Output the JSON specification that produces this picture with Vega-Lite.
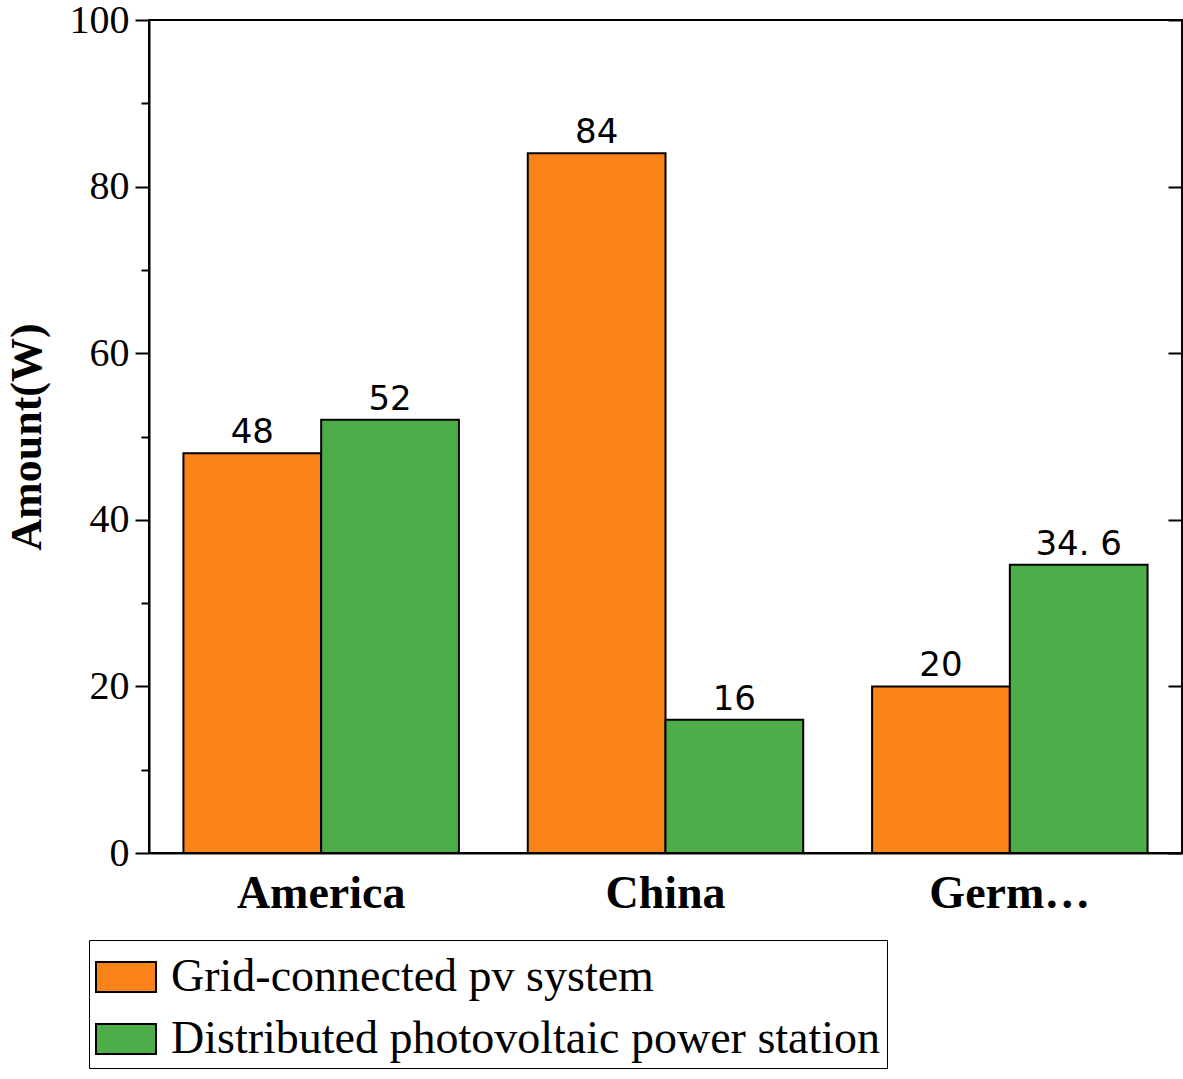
{
  "$schema": "https://vega.github.io/schema/vega-lite/v6.json",
  "width": 1033,
  "height": 833,
  "padding": {"left": 5, "top": 0, "right": 3, "bottom": 0},
  "data": {
    "values": [
      {"country": "America", "type": "Grid-connected pv system", "value": 48, "label": "48"},
      {"country": "America", "type": "Distributed photovoltaic power station", "value": 52, "label": "52"},
      {"country": "China", "type": "Grid-connected pv system", "value": 84, "label": "84"},
      {"country": "China", "type": "Distributed photovoltaic power station", "value": 16, "label": "16"},
      {"country": "Germany", "type": "Grid-connected pv system", "value": 20, "label": "20"},
      {"country": "Germany", "type": "Distributed photovoltaic power station", "value": 34.6, "label": "34. 6"}
    ]
  },
  "encoding": {
    "x": {
      "field": "country", "type": "nominal", "sort": null,
      "scale": {"paddingInner": 0.2, "paddingOuter": 0.1},
      "axis": {"title": null, "labelAngle": 0, "labelFont": "Liberation Serif", "labelFontWeight": "bold", "labelFontSize": 46, "labelColor": "black", "ticks": false, "domainColor": "black", "domainWidth": 2, "labelPadding": 18}
    },
    "xOffset": {"field": "type", "type": "nominal", "sort": ["Grid-connected pv system", "Distributed photovoltaic power station"]},
    "y": {"field": "value", "type": "quantitative", "scale": {"domain": [0, 100]}}
  },
  "layer": [
    {
      "mark": {"type": "bar", "stroke": "black", "strokeWidth": 2},
      "encoding": {
        "y": {
          "field": "value", "type": "quantitative", "scale": {"domain": [0, 100]},
          "axis": {"title": "Amount(W)", "titleFont": "Liberation Serif", "titleFontWeight": "bold", "titleFontSize": 44, "titleColor": "black", "titlePadding": 20, "values": [0, 20, 40, 60, 80, 100], "grid": false, "labelFont": "Liberation Serif", "labelFontSize": 40, "labelColor": "black", "tickColor": "black", "tickWidth": 2, "tickSize": 14, "domainColor": "black", "domainWidth": 2, "labelPadding": 6}
        },
        "color": {
          "field": "type", "type": "nominal", "sort": ["Grid-connected pv system", "Distributed photovoltaic power station"],
          "scale": {"range": ["#fb8418", "#4dae49"]},
          "legend": {"title": null, "orient": "none", "legendX": -60, "legendY": 920, "direction": "vertical", "labelFont": "Liberation Serif", "labelFontSize": 46, "labelColor": "black", "symbolType": "M-1,-0.5H1V0.5H-1Z", "symbolSize": 3600, "symbolStrokeColor": "black", "symbolStrokeWidth": 2, "symbolOpacity": 1, "rowPadding": 8, "labelLimit": 1000, "strokeColor": "black", "padding": 6, "labelOffset": 14}
        }
      }
    },
    {
      "mark": {"type": "text", "dy": -20, "font": "DejaVu Sans", "fontSize": 34, "color": "black"},
      "encoding": {
        "text": {"field": "label"},
        "y": {"field": "value", "type": "quantitative", "scale": {"domain": [0, 100]},
          "axis": {"orient": "right", "title": null, "labels": false, "values": [0, 20, 40, 60, 80, 100], "grid": false, "tickColor": "black", "tickWidth": 2, "tickSize": -14, "domainColor": "black", "domainWidth": 2}
        }
      }
    },
    {
      "mark": {"type": "bar", "opacity": 0},
      "encoding": {
        "y": {"field": "value", "type": "quantitative", "scale": {"domain": [0, 100]},
          "axis": {"title": null, "labels": false, "values": [10, 30, 50, 70, 90], "grid": false, "tickColor": "black", "tickWidth": 2, "tickSize": 8, "domain": false}
        }
      }
    }
  ],
  "resolve": {"axis": {"y": "independent"}},
  "config": {"view": {"stroke": "black", "strokeWidth": 2}}
}
